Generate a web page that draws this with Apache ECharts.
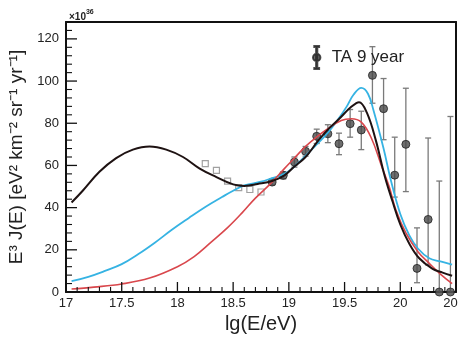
<!DOCTYPE html>
<html>
<head>
<meta charset="utf-8">
<script src="https://cdn.jsdelivr.net/npm/echarts@6/dist/echarts.min.js"></script>
<style>
html,body{margin:0;padding:0;background:#fff;}
#chart{width:458px;height:338px;}
</style>
</head>
<body>
<div id="chart"></div>
<script>
// ---- data ----
const xTicks = [17, 17.5, 18, 18.5, 19, 19.5, 20, 20.5];
const yTicks = [0, 20, 40, 60, 80, 100, 120];

const blackX = [17.05,17.15,17.3,17.45,17.6,17.75,17.9,18.05,18.2,18.35,18.5,18.6,18.72,18.85,18.96,19.05,19.15,19.26,19.35,19.45,19.56,19.63,19.7,19.78,19.86,19.93,20.0,20.08,20.17,20.29,20.38,20.465];
const blackY = [42.4,48,57,63.5,67.5,69,67.5,64,58.5,54.5,51,50.3,51.2,52.6,55.3,59.5,64,71.5,77,82,87.8,90,85,72,55,43,32,23,16,11,9.2,7.7];

const blueX = [17.05,17.2,17.35,17.5,17.65,17.8,17.95,18.1,18.25,18.4,18.5,18.6,18.75,18.85,18.96,19.05,19.14,19.25,19.35,19.45,19.52,19.58,19.65,19.71,19.76,19.85,19.92,20.0,20.08,20.16,20.26,20.36,20.465];
const blueY = [5.1,7.2,10,13.2,18,23.5,29.5,35,40.3,45,48,50.5,52.3,54,56,59.5,64,70,75.5,82.5,88,93.5,96.8,94,86,68,52,37,27,20.5,16,14.5,13];

const redX = [17.05,17.25,17.5,17.75,18.0,18.15,18.3,18.45,18.58,18.7,18.85,18.96,19.05,19.15,19.25,19.35,19.47,19.56,19.65,19.74,19.83,19.9,19.96,20.05,20.16,20.26,20.36,20.465];
const redY = [1.4,2.3,3.8,6.6,12,16.8,23.5,30.5,37.5,44.5,52.1,58.5,63.5,69,73.5,77.4,81.3,82.1,80.5,73,60,50,39,28,19,13.6,8.5,4];

const taX  = [18.85,18.95,19.05,19.15,19.25,19.35,19.45,19.55,19.65,19.75,19.85,19.95,20.05,20.15,20.25,20.35,20.45];
const taY  = [52.1,55.3,61.6,66.7,73.8,75.0,70.3,79.8,76.8,102.7,86.9,55.4,70.0,11.2,34.4,0,0];
const taHi = [53.5,57,64,69,77.2,79.3,75.3,86.5,85.7,116.3,101.2,73.4,96.6,30.4,73.0,52.6,83.2];
const taLo = [50.7,53.6,59.2,64.4,70.4,70.8,65.1,73.4,67.5,89.5,72.2,45,47.6,4.4,12.8,0,0];

const sqX = [18.25,18.35,18.45,18.55,18.65,18.75];
const sqY = [60.9,57.7,52.6,49.5,48.6,47.4];

// ---- build ----
const zip = (a, b) => a.map((v, i) => [v, b[i]]);
const FONT = 'Liberation Sans, Arial, sans-serif';
const xMin = xTicks[0], xMax = xTicks[xTicks.length - 1], yMin = yTicks[0], yMax = 128;
const INK = '#111';

// tick positions (major from tick lists, minor at 0.1 / 4 steps)
const xMinor = [], yMinor = [];
for (let i = 0; i <= Math.round((xMax - xMin) * 10); i++) {
  const v = +(xMin + i * 0.1).toFixed(2);
  if (!xTicks.includes(v)) xMinor.push(v);
}
for (let v = yMin; v <= yMax; v += 4) if (v % 20 !== 0) yMinor.push(v);

function tickSeries(name, values, isX, len, width) {
  return {
    name: name, type: 'custom', z: 7, clip: false, silent: true,
    data: values.map(v => isX ? [v, yMin] : [xMin, v]),
    encode: {x: 0, y: 1},
    renderItem: function (params, api) {
      const p = api.coord([api.value(0), api.value(1)]);
      const shape = isX
        ? {x1: p[0], y1: p[1], x2: p[0], y2: p[1] - len}
        : {x1: p[0], y1: p[1], x2: p[0] + len, y2: p[1]};
      return {type: 'line', shape: shape, style: {stroke: INK, lineWidth: width, fill: null}};
    }
  };
}

const chart = echarts.init(document.getElementById('chart'), null, {renderer: 'canvas'});

const legendIcon = 'path://M4.4,0 H5.6 V23 H4.4 Z M2.6,0 H7.4 V1 H2.6 Z M2.6,22 H7.4 V23 H2.6 Z M5,7.8 A3.7,3.7 0 1 1 4.99,7.8 Z';

const frameAxis = {
  type: 'value', axisLabel: {show: false}, axisTick: {show: false}, splitLine: {show: false},
  axisLine: {show: true, onZero: false, lineStyle: {color: INK, width: 2}}
};

chart.setOption({
  animation: false,
  backgroundColor: '#fff',
  title: {
    text: '{a|×10}{b|36}',
    left: 64, top: 4,
    textStyle: {
      rich: {
        a: {fontSize: 10, fontFamily: FONT, color: '#222', verticalAlign: 'bottom'},
        b: {fontSize: 7, fontFamily: FONT, color: '#222', verticalAlign: 'top', padding: [0,0,6,0]}
      }
    }
  },
  legend: {
    data: [{name: 'TA 9 year', icon: legendIcon}],
    left: 307, top: 40,
    itemWidth: 10, itemHeight: 23,
    textStyle: {fontSize: 17, fontFamily: FONT, color: '#222', padding: [0,0,0,5]}
  },
  grid: {left: 66, right: 2, top: 22, bottom: 46, outerBoundsMode: 'none'},
  xAxis: [{
    type: 'value', min: xMin, max: xMax, interval: 0.5, position: 'bottom',
    name: 'lg(E/eV)', nameLocation: 'middle', nameGap: 22,
    nameTextStyle: {fontSize: 20, fontFamily: FONT, color: '#222'},
    axisLine: {show: true, onZero: false, lineStyle: {color: INK, width: 2}},
    axisTick: {show: false},
    axisLabel: {fontSize: 13, fontFamily: FONT, color: '#222', margin: 5, showMaxLabel: true, hideOverlap: false},
    splitLine: {show: false}
  }, Object.assign({}, frameAxis, {min: xMin, max: xMax, position: 'top'})],
  yAxis: [{
    type: 'value', min: yMin, max: yMax, interval: 20, position: 'left',
    name: 'E³ J(E) [eV² km⁻² sr⁻¹ yr⁻¹]', nameLocation: 'middle', nameGap: 28,
    nameTextStyle: {fontSize: 19, fontFamily: FONT, color: '#222'},
    axisLine: {show: true, onZero: false, lineStyle: {color: INK, width: 2}},
    axisTick: {show: false},
    axisLabel: {fontSize: 13, fontFamily: FONT, color: '#222', margin: 7, showMaxLabel: false},
    splitLine: {show: false}
  }, Object.assign({}, frameAxis, {min: yMin, max: yMax, position: 'right'})],
  series: [
    tickSeries('xMajorTicks', xTicks, true, 10, 1.3),
    tickSeries('xMinorTicks', xMinor, true, 5, 1.1),
    tickSeries('yMajorTicks', yTicks, false, 11, 1.3),
    tickSeries('yMinorTicks', yMinor, false, 6, 1.1),
    {
      name: 'errbars', type: 'custom', z: 2, clip: false, silent: true,
      data: taX.map((x, i) => [x, taLo[i], taHi[i]]),
      encode: {x: 0, y: [1, 2]},
      renderItem: function (params, api) {
        const x = api.value(0);
        const lo = api.coord([x, api.value(1)]);
        const hi = api.coord([x, api.value(2)]);
        const cw = 3;
        const st = {stroke: '#7a7a7a', lineWidth: 1.3};
        return {
          type: 'group',
          children: [
            {type: 'line', shape: {x1: lo[0], y1: lo[1], x2: hi[0], y2: hi[1]}, style: st},
            {type: 'line', shape: {x1: hi[0] - cw, y1: hi[1], x2: hi[0] + cw, y2: hi[1]}, style: st},
            {type: 'line', shape: {x1: lo[0] - cw, y1: lo[1], x2: lo[0] + cw, y2: lo[1]}, style: st}
          ]
        };
      }
    },
    {
      name: 'squares', type: 'scatter', z: 3, symbol: 'rect', symbolSize: 6,
      data: zip(sqX, sqY),
      itemStyle: {color: '#fff', borderColor: '#8a8a8a', borderWidth: 1.2}
    },
    {
      name: 'TA 9 year', type: 'scatter', z: 3, symbol: 'circle', symbolSize: 8, clip: false,
      data: zip(taX, taY),
      itemStyle: {color: '#4a4a4a', borderColor: '#222', borderWidth: 1}
    },
    {
      name: 'blue', type: 'line', z: 5, smooth: 0.4, showSymbol: false,
      data: zip(blueX, blueY),
      lineStyle: {color: '#36b3e3', width: 1.8}
    },
    {
      name: 'red', type: 'line', z: 5, smooth: 0.4, showSymbol: false,
      data: zip(redX, redY),
      lineStyle: {color: '#d9474c', width: 1.6}
    },
    {
      name: 'black', type: 'line', z: 6, smooth: 0.4, showSymbol: false,
      data: zip(blackX, blackY),
      lineStyle: {color: '#1e1212', width: 2}
    }
  ]
});
</script>
</body>
</html>
